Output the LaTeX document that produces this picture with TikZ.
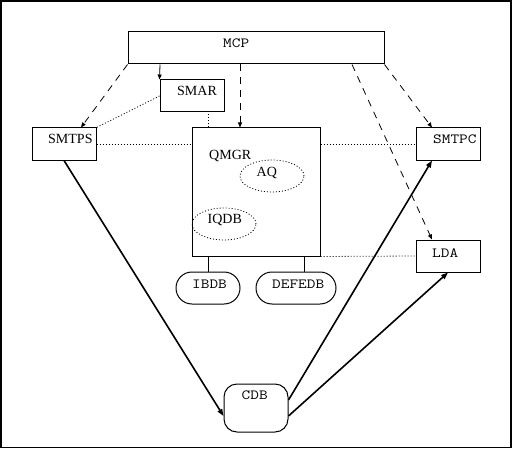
\documentclass[tikz,border=0pt]{standalone}
\usepackage{fontspec}
\setmainfont{Liberation Serif}
\usetikzlibrary{arrows.meta,shapes.geometric,calc}
\begin{document}
\begin{tikzpicture}[x=1pt,y=-1pt,
  box/.style={draw,line width=1pt,rectangle,inner sep=0pt,minimum width=#1,minimum height=32pt},
  box/.default=64pt,
  dbox/.style={draw,line width=1pt,rectangle,rounded corners=16pt,inner sep=0pt,minimum width=#1,minimum height=32pt},
  ell/.style={draw,ellipse,line width=0.8pt,dash pattern=on 1pt off 2pt,inner sep=0pt,minimum width=64pt,minimum height=32pt},
  serif/.style={anchor=base west,inner sep=0pt,font=\fontsize{14}{16}\selectfont},
  mono/.style={anchor=base west,inner sep=0pt,xscale=1.2,font=\ttfamily\fontsize{14}{16}\selectfont},
  dashedarrow/.style={line width=0.8pt,dash pattern=on 7pt off 6pt,-{Triangle[length=5pt,width=4pt]}},
  solidarrow/.style={line width=0.8pt,-{Triangle[length=5pt,width=4pt]}},
  thickarrow/.style={line width=1.6pt,-{Triangle[length=7pt,width=5pt]}},
  dotline/.style={line width=0.8pt,dash pattern=on 1pt off 2pt},
  thin/.style={line width=0.8pt}]
\useasboundingbox (0,0) rectangle (513,449);
\draw[line width=1.6pt] (0.8,0.8) rectangle (511.2,447.4);
% boxes
\node[box=256pt] (mcp) at (256,48) {};
\node[box] (smar) at (192,96) {};
\node[box] (smtps) at (64,144) {};
\node[draw,line width=1pt,rectangle,inner sep=0pt,minimum width=128pt,minimum height=128pt] (qmgr) at (256,192) {};
\node[box] (smtpc) at (448,144) {};
\node[box] (lda) at (448,256) {};
\node[dbox=64pt] (ibdb) at (208,288) {};
\node[dbox=80pt] (defedb) at (296,288) {};
\node[draw,line width=1pt,rectangle,rounded corners=13pt,inner sep=0pt,minimum width=64pt,minimum height=48pt] (cdb) at (256,408) {};
\node[ell] (aq) at (272,176) {};
\node[ell] (iqdb) at (224,224) {};
% texts
\node[mono] (tmcp) at (223,47.5) {MCP};
\node[serif] (tsmar) at (177,96) {SMAR};
\node[serif] (tsmtps) at (48,143) {SMTPS};
\node[serif] (tqmgr) at (209,160) {QMGR};
\node[serif] (taq) at (256.5,176) {AQ};
\node[serif] (tiqdb) at (207.5,223.3) {IQDB};
\node[mono] (tsmtpc) at (433,143.3) {SMTPC};
\node[mono] (tlda) at (432,257) {LDA};
\node[mono] (tibdb) at (192,288) {IBDB};
\node[mono] (tdefedb) at (272,288) {DEFEDB};
\node[mono] (tcdb) at (241.5,399.3) {CDB};
% connectors
\draw[dashedarrow] (mcp.south west) -- ([xshift=17pt]smtps.north);
\draw[solidarrow] ([xshift=-96pt]mcp.south) -- (smar.north west);
\draw[dashedarrow] ([xshift=-16pt]mcp.south) -- ([xshift=-16pt]qmgr.north);
\draw[dashedarrow] (mcp.south east) -- ([xshift=-16pt]smtpc.north);
\draw[dashedarrow] ([xshift=96pt]mcp.south) -- ([xshift=-16pt]lda.north);
\draw[dotline] (smar.west) -- (smtps.north east);
\draw[dotline] ([xshift=-48pt]qmgr.north) -- ([xshift=-48pt]qmgr.north |- smar.south);
\draw[dotline] (smtps.east) -- (smtps.east -| qmgr.west);
\draw[dotline] (smtpc.west -| qmgr.east) -- (smtpc.west);
\draw[dotline] (qmgr.south east) -- (lda.west);
\draw[thin] (ibdb.north |- qmgr.south) -- (ibdb.north);
\draw[thin] ([xshift=8pt]defedb.north |- qmgr.south) -- ([xshift=8pt]defedb.north);
\draw[thickarrow] (smtps.south) -- ([yshift=-8pt]cdb.west);
\draw[thickarrow] ([yshift=8pt]cdb.east) -- ([xshift=-16pt]smtpc.south);
\draw[thickarrow] ([yshift=-8pt]cdb.east) -- (lda.south);
\end{tikzpicture}
\end{document}
